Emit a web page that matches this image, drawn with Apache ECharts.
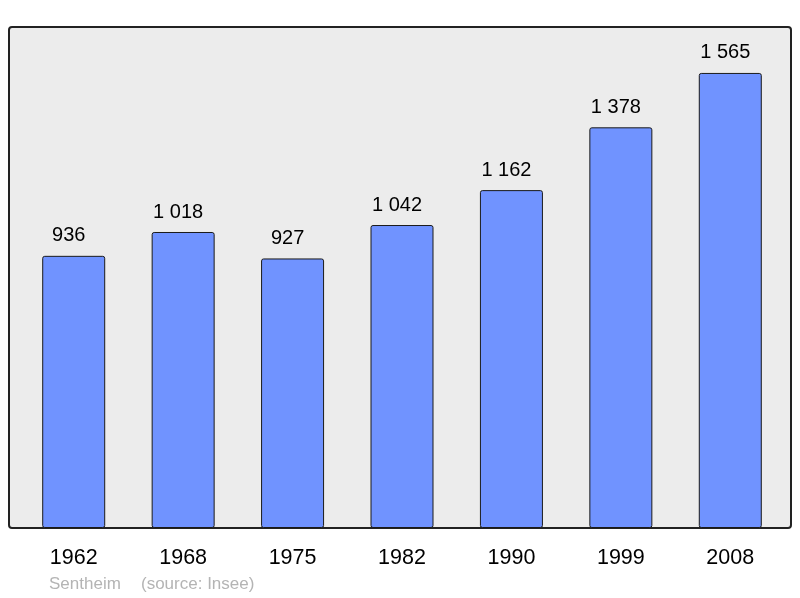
<!DOCTYPE html>
<html>
<head>
<meta charset="utf-8">
<script src="https://cdn.jsdelivr.net/npm/echarts@6/dist/echarts.min.js"></script>
<style>html,body{margin:0;padding:0;background:#fff;}#c{width:800px;height:598px;}</style>
</head>
<body>
<div id="c"></div>
<script>
const years = ['1962','1968','1975','1982','1990','1999','2008'];
const population = [936, 1018, 927, 1042, 1162, 1378, 1565];
const footerName = 'Sentheim';
const footerSource = '(source: Insee)';

const chart = echarts.init(document.getElementById('c'), null, {renderer: 'canvas'});
const fmt = v => String(v).replace(/\B(?=(\d{3})+(?!\d))/g, ' ');
const FONT = '"Liberation Sans", Arial, sans-serif';
chart.setOption({
  animation: false,
  backgroundColor: '#ffffff',
  graphic: [
    {type: 'rect', z: -10, shape: {x: 9, y: 27, width: 782, height: 501, r: 3},
     style: {fill: '#ececec', stroke: '#222', lineWidth: 2}},
    {type: 'text', left: 49, top: 576, style: {text: footerName, fill: '#b4b4b4', font: '17px ' + FONT}},
    {type: 'text', left: 141, top: 576, style: {text: footerSource, fill: '#b4b4b4', font: '17px ' + FONT}}
  ],
  grid: {left: 19, right: 15, top: 27, bottom: 70, containLabel: false},
  xAxis: {
    type: 'category', data: years,
    axisLine: {show: false}, axisTick: {show: false},
    axisLabel: {fontSize: 21.5, color: '#000', fontFamily: FONT, margin: 19}
  },
  yAxis: {
    type: 'value', min: 0, max: 1723,
    show: false, splitLine: {show: false}
  },
  series: [{
    type: 'bar', data: population, barWidth: 63,
    itemStyle: {color: '#7093ff', borderColor: '#1a1a1a', borderWidth: 1, borderRadius: 2},
    label: {show: true, position: 'top', distance: 10, offset: [-5, 0], fontSize: 20, color: '#000',
      fontFamily: FONT, formatter: p => fmt(p.value)}
  }]
});
</script>
</body>
</html>
